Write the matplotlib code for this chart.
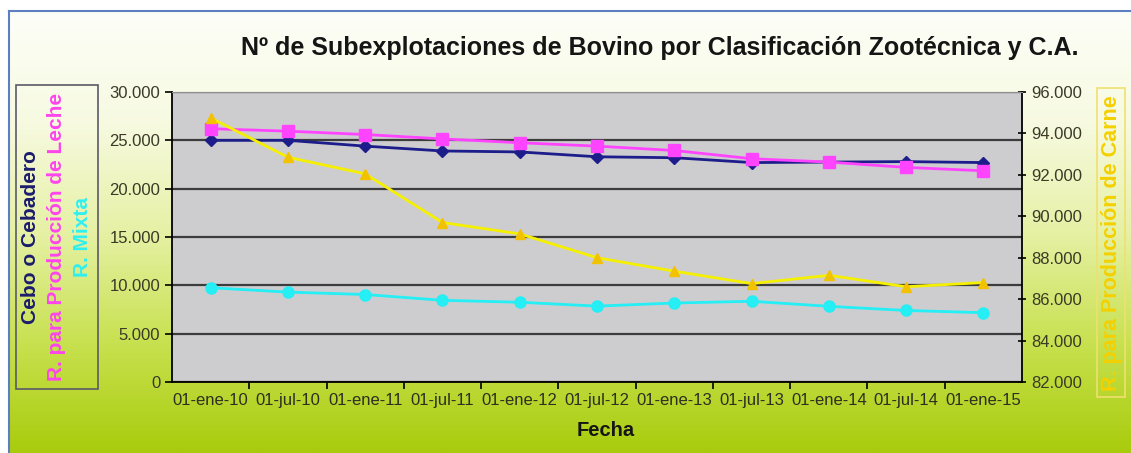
import numpy as np
import matplotlib as mpl
mpl.use('Agg')
import matplotlib.pyplot as plt
from matplotlib.patches import Rectangle
from matplotlib.ticker import FuncFormatter, FixedLocator

plt.rcParams['font.family'] = ['Liberation Sans', 'DejaVu Sans']

fechas = ['01-ene-10', '01-jul-10', '01-ene-11', '01-jul-11', '01-ene-12',
          '01-jul-12', '01-ene-13', '01-jul-13', '01-ene-14', '01-jul-14',
          '01-ene-15']
cebo = [25000, 25000, 24400, 23900, 23800, 23300, 23200, 22700, 22750, 22800, 22700]
leche = [26200, 25950, 25600, 25150, 24750, 24400, 23950, 23100, 22750, 22200, 21850]
mixta = [9750, 9300, 9050, 8450, 8250, 7850, 8170, 8350, 7830, 7400, 7170]
carne = [94750, 92850, 92050, 89700, 89150, 88000, 87350, 86750, 87150, 86600, 86800]


def miles(v, pos=None):
    return f"{int(round(v)):,}".replace(",", ".")


W, H = 1131, 453
fig = plt.figure(figsize=(W / 100, H / 100), dpi=100)
fig.patch.set_facecolor('white')

# fondo degradado
bg = fig.add_axes([9 / W, 0, 1 - 9 / W, 1 - 11 / H])
stops = np.array([[253, 254, 248], [247, 250, 225], [230, 241, 165],
                  [200, 225, 80], [168, 204, 12]]) / 255.0
pos = np.linspace(0, 1, len(stops))
t = np.linspace(0, 1, 256)
grad = np.stack([np.interp(t, pos, stops[:, k]) for k in range(3)], axis=1)
bg.imshow(grad[:, None, :], aspect='auto', extent=[0, 1, 0, 1])
bg.set_axis_off()
fig.add_artist(plt.Line2D([9 / W, 9 / W], [0, 1 - 11 / H], color='#5b7fc0', lw=1.5))
fig.add_artist(plt.Line2D([9 / W, 1], [1 - 11 / H, 1 - 11 / H], color='#5b7fc0', lw=1.5))

ax = fig.add_axes([172 / W, 1 - 382 / H, 850 / W, 290 / H])
ax.set_facecolor('#cdcdd0')
x = np.arange(len(fechas))
ax.set_xlim(-0.5, len(fechas) - 0.5)
ax.set_ylim(0, 30000)
ax.set_yticks(np.arange(0, 30001, 5000))
ax.yaxis.set_major_formatter(FuncFormatter(miles))
ax.set_xticks(x)
ax.set_xticklabels(fechas)
ax.xaxis.set_minor_locator(FixedLocator(np.arange(0.5, len(fechas) - 0.5, 1)))
ax.tick_params(axis='x', which='major', length=0, pad=8, labelsize=12, labelcolor='#2e2e22')
ax.tick_params(axis='x', which='minor', length=5, width=1.2, direction='out')
ax.tick_params(axis='y', length=5, width=1.2, labelsize=12, labelcolor='#3a3a26')
ax.yaxis.grid(True, color='#3c3c3c', lw=1.6)
ax.set_axisbelow(True)
for s in ['left', 'bottom']:
    ax.spines[s].set_linewidth(1.3)
ax.spines['top'].set_color('#909090')
ax.spines['right'].set_visible(False)

ax.plot(x, cebo, color='#1c1c8a', lw=2, marker='D', ms=6)
ax.plot(x, leche, color='#ff44ff', lw=2, marker='s', ms=9)
ax.plot(x, mixta, color='#25eef5', lw=2, marker='o', ms=8)

ax2 = ax.twinx()
ax2.set_ylim(82000, 96000)
ax2.set_yticks(np.arange(82000, 96001, 2000))
ax2.yaxis.set_major_formatter(FuncFormatter(miles))
ax2.tick_params(axis='y', length=6, width=1.2, direction='inout', labelsize=12,
                labelcolor='#3a3a26')
ax2.spines['right'].set_linewidth(1.3)
ax2.spines['top'].set_color('#909090')
ax2.spines['left'].set_visible(False)
ax2.spines['bottom'].set_visible(False)
ax2.plot(x, carne, color='#f5f000', lw=2, marker='^', ms=7, mfc='#f2c200', mec='#f2c200')

fig.text(660 / W, 1 - 48 / H, 'Nº de Subexplotaciones de Bovino por Clasificación Zootécnica y C.A.',
         ha='center', va='center', fontsize=18, fontweight='bold', color='#151515')
fig.text(606 / W, 1 - 431 / H, 'Fecha', ha='center', va='center', fontsize=14.5,
         fontweight='bold', color='#151515')

# caja de leyenda izquierda
fig.add_artist(Rectangle((16 / W, 1 - 389 / H), 82 / W, 304 / H, transform=fig.transFigure,
                         fill=False, ec='#5a5a6a', lw=1.2))
yc = 1 - 237 / H
fig.text(31 / W, yc, 'Cebo o Cebadero', rotation=90, ha='center', va='center',
         fontsize=15, fontweight='bold', color='#1c1c6e')
fig.text(57 / W, yc, 'R. para Producción de Leche', rotation=90, ha='center', va='center',
         fontsize=15, fontweight='bold', color='#ff44ee')
fig.text(83 / W, yc, 'R. Mixta', rotation=90, ha='center', va='center',
         fontsize=15, fontweight='bold', color='#30f0f0')

# caja derecha
fig.add_artist(Rectangle((1097 / W, 1 - 397 / H), 28 / W, 309 / H, transform=fig.transFigure,
                         fill=False, ec='#f0e070', lw=1.2))
fig.text(1111 / W, 1 - 243 / H, 'R. para Producción de Carne', rotation=90, ha='center',
         va='center', fontsize=15.5, fontweight='bold', color='#f5d000')

fig.savefig('out.png', dpi=100)
